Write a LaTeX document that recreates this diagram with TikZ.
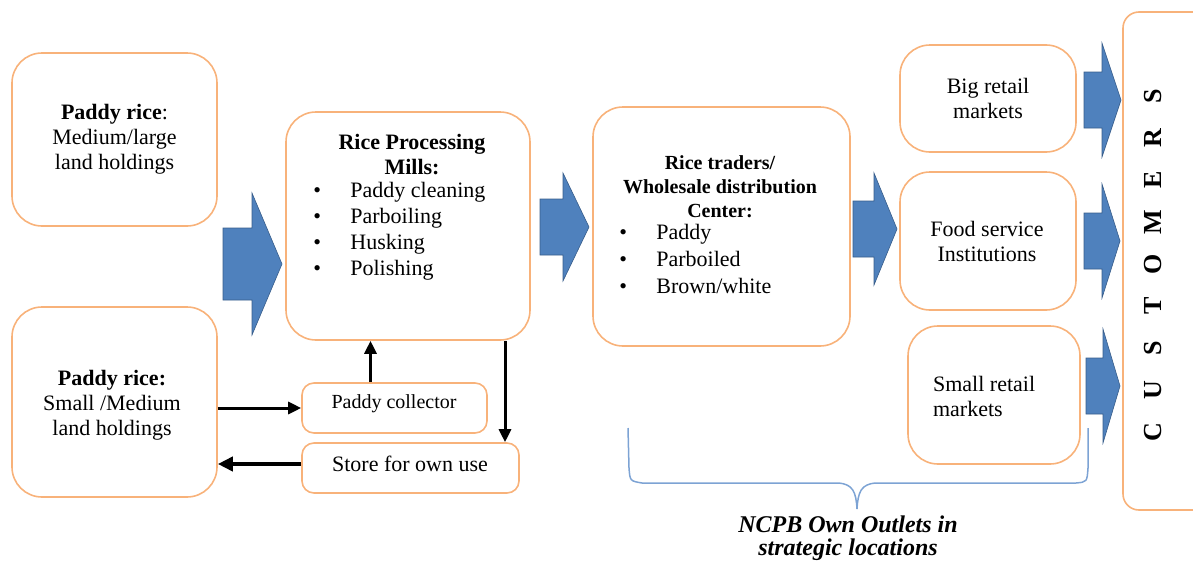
\documentclass[tikz,border=0pt]{standalone}
\usepackage{fontspec}
\setmainfont{Liberation Serif}
\usepackage{xcolor}
\usepackage{tikz}
\usetikzlibrary{fit,arrows.meta}

\definecolor{boxline}{RGB}{248,178,122}
\definecolor{arrowblue}{RGB}{79,129,189}
\definecolor{arrowedge}{RGB}{56,93,138}
\definecolor{bracecol}{RGB}{125,163,212}

% block arrow: left x, head base x, tip x, centre y, shaft half, head half
\newcommand{\blockarrow}[6]{%
  \draw[bigarrow] (#1,#4-#5) -- (#2,#4-#5) -- (#2,#4-#6) -- (#3,#4)
    -- (#2,#4+#6) -- (#2,#4+#5) -- (#1,#4+#5) -- cycle;}

\begin{document}
\begin{tikzpicture}[x=0.5pt, y=-0.5pt,
    every node/.style={font=\fontsize{11}{12.5}\selectfont},
    box/.style = {draw=boxline, line width=0.8pt, rounded corners=15pt, inner sep=0pt},
    smallbox/.style = {box, rounded corners=6pt},
    bigarrow/.style = {fill=arrowblue, draw=arrowedge, line width=0.3pt},
    flow/.style = {line width=1.5pt, -{Triangle[length=6.5pt,width=6pt]}},
    flowthick/.style = {line width=2.3pt, -{Triangle[length=7.5pt,width=7pt]}},
    bracket/.style = {draw=bracecol, line width=0.75pt}]
    \clip (0,0) rectangle (1193,562);

    % boxes
    \node[box, fit={(12,53) (217,226)}] (large) {};
    \node[box, fit={(12,307) (217,497)}] (small) {};
    \node[box, fit={(286,112) (530,340)}] (mill) {};
    \node[box, fit={(593,107) (850,346)}] (traders) {};
    \node[box, fit={(900,45) (1076,152)}] (bigretail) {};
    \node[box, fit={(900,172) (1076,310)}] (food) {};
    \node[box, fit={(908,326) (1080,464)}] (smallretail) {};
    \node[box, rounded corners=8pt, fit={(1123,12) (1215,510)}] (customers) {};
    \node[smallbox, fit={(302,383) (487,433)}] (collector) {};
    \node[smallbox, fit={(302,443) (519,493)}] (store) {};

    % texts
    \node[align=center] (largetxt) at (large) {\textbf{Paddy rice}:\\Medium/large\\land holdings};
    \node[align=center] (smalltxt) at (112,405) {\textbf{Paddy rice:}\\Small /Medium\\land holdings};
    \node[align=center] (milltitle) at (412,155) {\textbf{Rice Processing}\\\textbf{Mills:}};
    \node[anchor=west, inner sep=0pt] (milllist) at (313,231)
      {\fontsize{11}{13}\selectfont\begin{tabular}{@{}p{18.5pt}@{}l@{}}
        \textbullet & Paddy cleaning\\
        \textbullet & Parboiling\\
        \textbullet & Husking\\
        \textbullet & Polishing
      \end{tabular}};
    \node[align=center, font=\fontsize{10}{12}\selectfont\bfseries] (tradertitle) at (720,187)
      {Rice traders/\\Wholesale distribution\\Center:};
    \node[anchor=west, inner sep=0pt] (traderlist) at (619,261)
      {\fontsize{11}{13.5}\selectfont\begin{tabular}{@{}p{18.5pt}@{}l@{}}
        \textbullet & Paddy\\
        \textbullet & Parboiled\\
        \textbullet & Brown/white
      \end{tabular}};
    \node[align=center] (bigtxt) at (988,98) {Big retail\\markets};
    \node[align=center] (foodtxt) at (987,241) {Food service\\Institutions};
    \node[align=left, anchor=west] (smallrtxt) at (926,396) {Small retail\\markets};
    \node (collectortxt) at (394,404) {\fontsize{10}{12}\selectfont Paddy collector};
    \node (storetxt) at (410,464) {Store for own use};
    \foreach \l [count=\i from 0] in {C,U,S,T,O,M,E,R,S}
      \node[rotate=90, font=\fontsize{13}{14}\selectfont\bfseries] (cust\i) at (1153,432-42*\i) {\l};

    % big arrows
    \blockarrow{223}{252}{282}{264}{36}{71}
    \blockarrow{540}{563}{589}{227}{28}{54}
    \blockarrow{853}{874}{897}{229}{28}{56}
    \blockarrow{1084}{1102}{1121}{100}{28}{57}
    \blockarrow{1084}{1102}{1120}{241}{28}{57}
    \blockarrow{1086}{1103}{1120}{386}{28}{57}

    % small flows
    \draw[flow] (small.east |- collector) -- (collector.west);
    \draw[flow] ([xshift=-12pt]collector.north) -- ([xshift=-12pt]collector.north |- mill.south);
    \draw[flow] ([xshift=48.5pt]mill.south) -- ([xshift=48.5pt]mill.south |- store.north);
    \draw[flowthick] ([yshift=2pt]store.west) -- ([yshift=2pt]store.west -| small.east);

    % outlets brace
    \draw[bracket] (628,428) -- (629,468) .. controls (630,481) .. (642,483)
      -- (838,483) .. controls (853,484) and (856,492) .. (857,509)
      .. controls (858,492) and (861,484) .. (876,483)
      -- (1076,483) .. controls (1087,482) .. (1088,468) -- (1088,428);
    \node[align=center, font=\fontsize{12}{11.5}\selectfont\bfseries\itshape] (outlets) at (848,538)
      {NCPB Own Outlets in\\strategic locations};
\end{tikzpicture}
\end{document}
